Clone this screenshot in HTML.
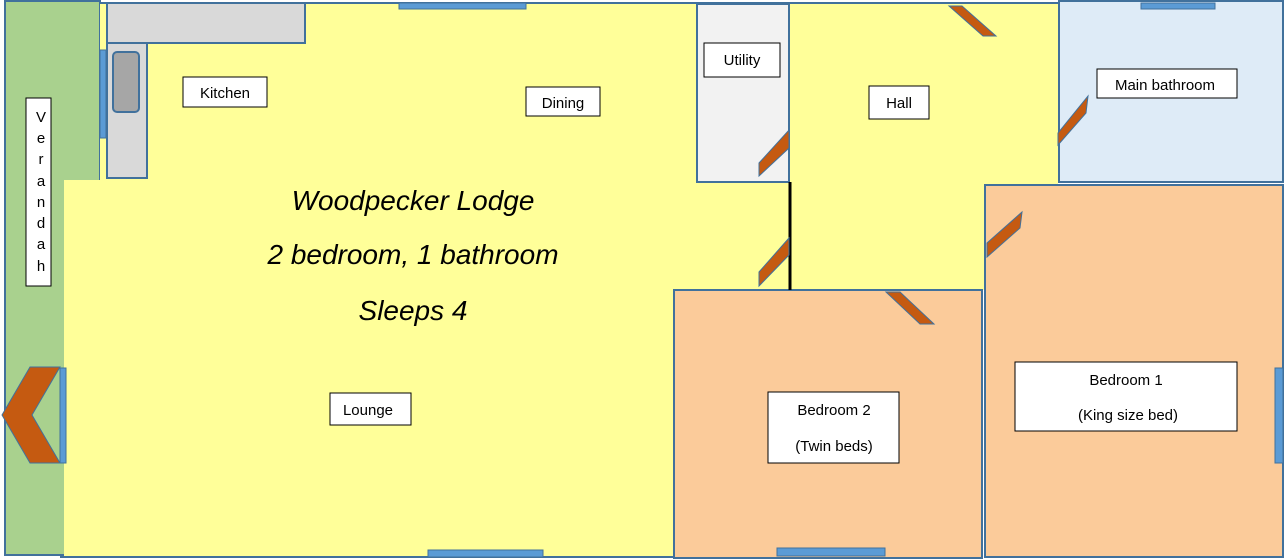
<!DOCTYPE html>
<html><head><meta charset="utf-8"><style>
html,body{margin:0;padding:0;background:#fff;width:1284px;height:560px;overflow:hidden}
svg{display:block}
text{font-family:"Liberation Sans",sans-serif;fill:#000}
</style></head><body>
<svg width="1284" height="560" viewBox="0 0 1284 560">
<g stroke="#41719c" stroke-width="2">
<rect x="5" y="1" width="95" height="554" fill="#a9d18e"/>
<polygon points="100,3 1058,3 1058,290 674,290 674,557 64,557 64,180 100,180" fill="#ffff99" stroke="none"/>
<line x1="100" y1="3" x2="1060" y2="3"/>
<line x1="60" y1="557" x2="674" y2="557"/>
<rect x="107" y="3" width="198" height="40" fill="#d9d9d9"/>
<rect x="107" y="43" width="40" height="135" fill="#d9d9d9"/>
<rect x="113" y="52" width="26" height="60" rx="4" fill="#a6a6a6"/>
<rect x="697" y="4" width="92" height="178" fill="#f2f2f2"/>
<rect x="1059" y="1" width="224" height="181" fill="#deebf7"/>
<rect x="985" y="185" width="298" height="372" fill="#fbcb9a"/>
<rect x="674" y="290" width="308" height="268" fill="#fbcb9a"/>
</g>
<line x1="790" y1="182" x2="790" y2="290" stroke="#000" stroke-width="3"/>
<g fill="#5b9bd5" stroke="#41719c" stroke-width="1">
<rect x="100" y="50" width="6" height="88"/>
<rect x="399" y="3" width="127" height="6"/>
<rect x="1141" y="3" width="74" height="6"/>
<rect x="428" y="550" width="115" height="7"/>
<rect x="777" y="548" width="108" height="8"/>
<rect x="1275" y="368" width="8" height="95"/>
<rect x="60" y="368" width="6" height="95"/>
</g>
<g fill="#c55a11" stroke="#41719c" stroke-width="1">
<polygon points="949,6 962,6 996,36 983,36"/>
<polygon points="759,163 789,130 789,148 759,176"/>
<polygon points="759,272 789,238 789,255 759,286"/>
<polygon points="1058,133 1088,96 1086,113 1058,145"/>
<polygon points="987,243 1022,212 1020,228 987,257"/>
<polygon points="886,292 900,292 934,324 920,324"/>
<polygon points="2,415 30,367 60,367 32,415 60,463 30,463"/>
</g>
<g fill="#fff" stroke="#000" stroke-width="1">
<rect x="26" y="98" width="25" height="188"/>
<rect x="183" y="77" width="84" height="30"/>
<rect x="526" y="87" width="74" height="29"/>
<rect x="704" y="43" width="76" height="34"/>
<rect x="869" y="86" width="60" height="33"/>
<rect x="1097" y="69" width="140" height="29"/>
<rect x="330" y="393" width="81" height="32"/>
<rect x="768" y="392" width="131" height="71"/>
<rect x="1015" y="362" width="222" height="69"/>
</g>
<g font-size="15" text-anchor="middle">
<text x="225" y="98">Kitchen</text>
<text x="563" y="108">Dining</text>
<text x="742" y="65">Utility</text>
<text x="899" y="108">Hall</text>
<text x="1165" y="90">Main bathroom</text>
<text x="368" y="415">Lounge</text>
<text x="834" y="415">Bedroom 2</text>
<text x="834" y="451">(Twin beds)</text>
<text x="1126" y="385">Bedroom 1</text>
<text x="1128" y="420">(King size bed)</text>
<text x="41" y="122">V</text><text x="41" y="143">e</text><text x="41" y="164">r</text><text x="41" y="186">a</text><text x="41" y="207">n</text><text x="41" y="228">d</text><text x="41" y="249">a</text><text x="41" y="271">h</text>
</g>
<g font-size="28" text-anchor="middle" style="font-family:'Liberation Serif',serif;font-style:italic">
<text x="413" y="210">Woodpecker Lodge</text>
<text x="413" y="264">2 bedroom, 1 bathroom</text>
<text x="413" y="320">Sleeps 4</text>
</g>
</svg>
</body></html>
